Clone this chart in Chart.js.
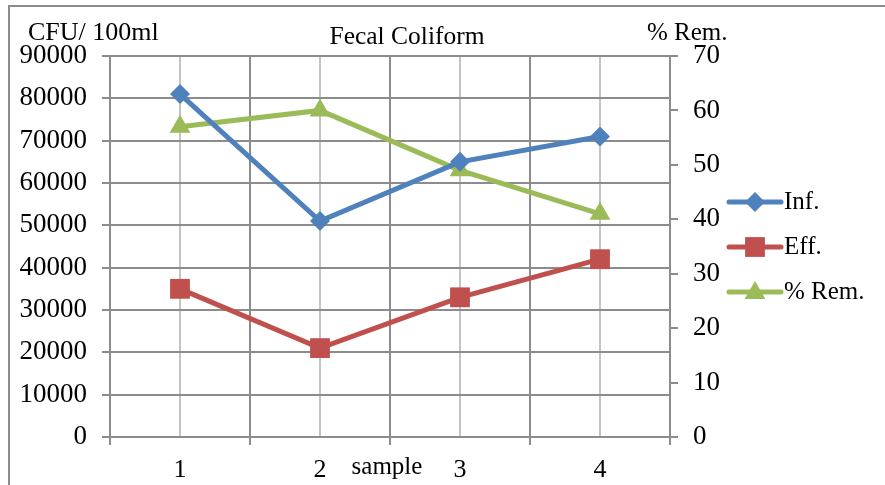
<!DOCTYPE html>
<html>
<head>
<meta charset="utf-8">
<script src="https://cdn.jsdelivr.net/npm/chart.js@4/dist/chart.umd.min.js"></script>
<style>
  html, body { margin: 0; padding: 0; background: #fff; }
  #wrap { width: 885px; height: 485px; position: relative; }
</style>
</head>
<body>
<div id="wrap"><canvas id="c" width="885" height="485"></canvas></div>
<script>
const categories = ['1', '2', '3', '4'];
const infValues = [81000, 51000, 65000, 71000];
const effValues = [35000, 21000, 33000, 42000];
const remValues = [57, 60, 49, 41];
const leftTicks = [0, 10000, 20000, 30000, 40000, 50000, 60000, 70000, 80000, 90000];
const rightTicks = [0, 10, 20, 30, 40, 50, 60, 70];
const seriesNames = ['Inf.', 'Eff.', '% Rem.'];

const FONT = '"Liberation Serif", "Times New Roman", serif';
const BLUE = '#4F81BD', RED = '#C0504D', GREEN = '#9BBB59';
const GRID = '#8c8c8c', LIGHT = '#c4c4c4';

const decor = {
  id: 'decor',
  afterDraw(chart) {
    const ctx = chart.ctx;
    ctx.save();
    ctx.strokeStyle = '#8c8c8c';
    ctx.lineWidth = 2;
    ctx.beginPath();
    ctx.moveTo(9, 485); ctx.lineTo(9, 6); ctx.lineTo(885, 6);
    ctx.stroke();
    ctx.fillStyle = '#000';
    ctx.textBaseline = 'middle';
    ctx.font = '26px ' + FONT;
    ctx.textAlign = 'left';
    ctx.fillText('CFU/ 100ml', 28, 33);
    ctx.font = '25px ' + FONT;
    ctx.fillText('% Rem.', 647, 33);
    ctx.textAlign = 'center';
    ctx.font = '25.5px ' + FONT;
    ctx.fillText('Fecal Coliform', 407, 37);
    ctx.font = '25px ' + FONT;
    ctx.fillText('sample', 387, 467);
    const colors = [BLUE, RED, GREEN];
    const styles = ['rectRot', 'rect', 'triangle'];
    const radii = [10, 14, 12];
    const ys = [202, 247, 292];
    for (let i = 0; i < 3; i++) {
      ctx.strokeStyle = colors[i];
      ctx.lineWidth = 5;
      ctx.lineCap = 'round';
      ctx.beginPath();
      ctx.moveTo(729, ys[i]); ctx.lineTo(781, ys[i]);
      ctx.stroke();
      ctx.fillStyle = colors[i];
      Chart.helpers.drawPoint(ctx, {pointStyle: styles[i], radius: radii[i], borderWidth: 0, rotation: 0}, 755, ys[i] + (i === 2 ? 1 : 0));
      ctx.fillStyle = '#000';
      ctx.textAlign = 'left';
      ctx.font = '25px ' + FONT;
      ctx.fillText(seriesNames[i], 784, ys[i]);
    }
    ctx.restore();
  }
};

new Chart(document.getElementById('c'), {
  type: 'line',
  data: {
    labels: categories,
    datasets: [
      { label: seriesNames[0], data: infValues, yAxisID: 'y', borderColor: BLUE, backgroundColor: BLUE,
        borderWidth: 5, pointStyle: 'rectRot', pointRadius: 10, pointHoverRadius: 10, pointBorderWidth: 0 },
      { label: seriesNames[1], data: effValues, yAxisID: 'y', borderColor: RED, backgroundColor: RED,
        borderWidth: 5, pointStyle: 'rect', pointRadius: 14, pointHoverRadius: 14, pointBorderWidth: 0 },
      { label: seriesNames[2], data: remValues, yAxisID: 'y1', borderColor: GREEN, backgroundColor: GREEN,
        borderWidth: 5, pointStyle: 'triangle', pointRadius: 12, pointHoverRadius: 12, pointBorderWidth: 0 }
    ]
  },
  options: {
    responsive: false,
    animation: false,
    events: [],
    layout: { padding: { top: 56, left: 0, right: 0, bottom: 0 } },
    plugins: { legend: { display: false }, title: { display: false }, tooltip: { enabled: false } },
    elements: { line: { tension: 0 } },
    scales: {
      x: {
        type: 'category',
        offset: true,
        grid: { offset: true, color: GRID, lineWidth: 2, tickLength: 8, tickColor: GRID },
        border: { color: GRID, width: 2 },
        ticks: { color: '#000', font: { family: FONT, size: 26 }, padding: 10, maxRotation: 0 },
        afterFit(s) { s.height = 48; }
      },
      x2: {
        type: 'category',
        position: 'top',
        offset: true,
        grid: { offset: false, color: LIGHT, lineWidth: 2, drawTicks: false },
        border: { display: false },
        ticks: { display: false },
        afterFit(s) { s.height = 0; }
      },
      y: {
        position: 'left',
        min: 0, max: 90000,
        afterBuildTicks(s) { s.ticks = leftTicks.map(v => ({ value: v })); },
        grid: { color: GRID, lineWidth: 2, tickLength: 8, tickColor: GRID },
        border: { color: GRID, width: 2 },
        ticks: { color: '#000', font: { family: FONT, size: 27 }, padding: 15, callback: v => String(v) },
        afterFit(s) { s.width = 110; }
      },
      y1: {
        position: 'right',
        min: 0, max: 70,
        afterBuildTicks(s) { s.ticks = rightTicks.map(v => ({ value: v })); },
        grid: { drawOnChartArea: false, color: GRID, lineWidth: 2, tickLength: 8, tickColor: GRID },
        border: { color: GRID, width: 2 },
        ticks: { color: '#000', font: { family: FONT, size: 27 }, padding: 15, callback: v => String(v) },
        afterFit(s) { s.width = 215; }
      }
    }
  },
  plugins: [decor]
});
</script>
</body>
</html>
